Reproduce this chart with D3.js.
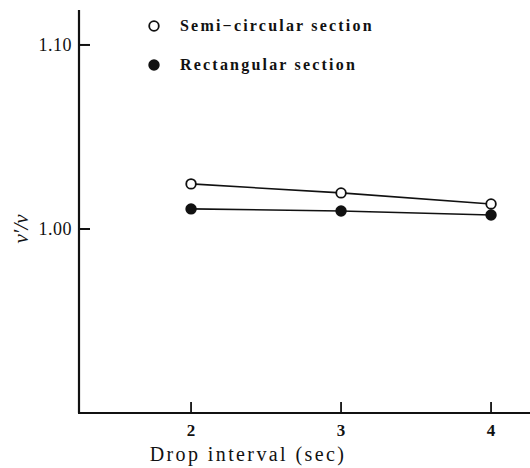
<!DOCTYPE html>
<html>
<head>
<meta charset="utf-8">
<script src="https://d3js.org/d3.v7.min.js"></script>
<style>
  body { margin: 0; background: #fff; }
  text { font-family: "Liberation Serif", "DejaVu Serif", serif; fill: #111; }
</style>
</head>
<body>
<div id="chart"></div>
<script>
// drop interval (sec)
const intervals = [2, 3, 4];
// v'/v for each section shape
const semiCircular = [1.0245, 1.0196, 1.0136];
const rectangular = [1.0109, 1.0098, 1.0076];
const seriesNames = ["Semi\u2212circular section", "Rectangular section"];
const xTicks = [2, 3, 4];
const yTicks = [1.00, 1.10];

const width = 530, height = 468;

const svg = d3.select("#chart").append("svg")
    .attr("width", width)
    .attr("height", height);

const x = d3.scaleLinear().domain([1.253, 4.273]).range([79, 532]);
const y = d3.scaleLinear().domain([0.90, 1.119]).range([413, 10]);

// y axis line
svg.append("line")
    .attr("x1", x(1.253)).attr("x2", x(1.253))
    .attr("y1", y(1.119)).attr("y2", y(0.90))
    .style("stroke", "#111").style("stroke-width", 2.2);

// x axis line
svg.append("line")
    .attr("x1", x(1.253) - 1).attr("x2", width)
    .attr("y1", y(0.90)).attr("y2", y(0.90))
    .style("stroke", "#111").style("stroke-width", 2.2);

// y ticks (pointing inward)
yTicks.forEach(function(t) {
    svg.append("line")
        .attr("x1", x(1.253)).attr("x2", x(1.253) + 11)
        .attr("y1", y(t)).attr("y2", y(t))
        .style("stroke", "#111").style("stroke-width", 2);
    svg.append("text")
        .attr("x", x(1.253) - 7)
        .attr("y", y(t) + 6)
        .attr("text-anchor", "end")
        .style("font-size", "18px")
        .style("letter-spacing", "0.5px")
        .text(d3.format(".2f")(t));
});

// x ticks (pointing up)
xTicks.forEach(function(t) {
    svg.append("line")
        .attr("x1", x(t)).attr("x2", x(t))
        .attr("y1", y(0.90)).attr("y2", y(0.90) - 11)
        .style("stroke", "#111").style("stroke-width", 1.8);
    svg.append("text")
        .attr("x", x(t))
        .attr("y", y(0.90) + 23)
        .attr("text-anchor", "middle")
        .style("font-size", "17px")
        .style("font-weight", "bold")
        .text(t);
});

// axis titles
svg.append("text")
    .attr("x", 248)
    .attr("y", 461)
    .attr("text-anchor", "middle")
    .style("font-size", "20px")
    .style("letter-spacing", "2.4px")
    .text("Drop interval (sec)");

svg.append("text")
    .attr("transform", "translate(28," + y(1.0) + ") rotate(-90)")
    .attr("text-anchor", "middle")
    .style("font-size", "21px")
    .style("font-style", "italic")
    .text("v\u2032/v");

// lines and markers
const line = d3.line()
    .x(function(d, i) { return x(intervals[i]); })
    .y(function(d) { return y(d); });

[semiCircular, rectangular].forEach(function(values, k) {
    svg.append("path")
        .datum(values)
        .attr("d", line)
        .style("fill", "none")
        .style("stroke", "#111")
        .style("stroke-width", 1.6);

    svg.selectAll(".pt" + k)
        .data(values)
        .enter().append("circle")
        .attr("class", "pt" + k)
        .attr("cx", function(d, i) { return x(intervals[i]); })
        .attr("cy", function(d) { return y(d); })
        .attr("r", 4.8)
        .style("fill", k === 0 ? "#fff" : "#111")
        .style("stroke", "#111")
        .style("stroke-width", 1.8);
});

// legend
const legendY = [26, 65];
seriesNames.forEach(function(name, k) {
    svg.append("circle")
        .attr("cx", 154)
        .attr("cy", legendY[k])
        .attr("r", 4.8)
        .style("fill", k === 0 ? "#fff" : "#111")
        .style("stroke", "#111")
        .style("stroke-width", 1.8);
    svg.append("text")
        .attr("x", 180)
        .attr("y", legendY[k] + 5)
        .style("font-size", "16px")
        .style("font-weight", "bold")
        .style("letter-spacing", "2.2px")
        .text(name);
});
</script>
</body>
</html>
